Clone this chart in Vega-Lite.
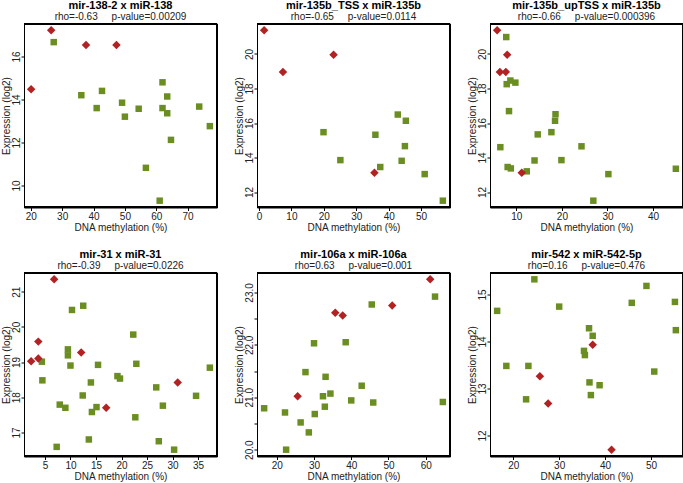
{
  "$schema": "https://vega.github.io/schema/vega-lite/v6.json",
  "background": "white",
  "padding": {"left": 0, "top": -0.5, "right": 0, "bottom": 0},
  "config": {
    "font": "Liberation Sans",
    "view": {"stroke": "#000000", "strokeWidth": 1},
    "axis": {"domain": false, "grid": false, "ticks": true, "tickColor": "#000000", "tickWidth": 1, "tickSize": 3, "labelFontSize": 10, "labelColor": "#222", "titleFontSize": 10, "titleFontWeight": "normal", "titleColor": "#222", "labelFlush": false, "labelOverlap": false, "labelBound": false},
    "axisY": {"labelAngle": -90, "labelAlign": "center", "labelBaseline": "middle", "labelPadding": 4.7, "titlePadding": 0},
    "axisX": {"labelPadding": 1, "titlePadding": 1},
    "title": {"fontSize": 11, "fontWeight": "bold", "color": "#000", "subtitleFontSize": 10, "subtitleColor": "#222", "offset": 1.5, "subtitlePadding": 1, "anchor": "middle"}
  },
  "datasets": {
    "p1": [
      {"methylation": 27.3, "expression": 16.67, "group": "green"},
      {"methylation": 36.1, "expression": 14.2, "group": "green"},
      {"methylation": 42.7, "expression": 14.4, "group": "green"},
      {"methylation": 41.0, "expression": 13.6, "group": "green"},
      {"methylation": 49.1, "expression": 13.85, "group": "green"},
      {"methylation": 50.0, "expression": 13.2, "group": "green"},
      {"methylation": 54.4, "expression": 13.57, "group": "green"},
      {"methylation": 62.0, "expression": 14.8, "group": "green"},
      {"methylation": 63.5, "expression": 14.14, "group": "green"},
      {"methylation": 62.0, "expression": 13.6, "group": "green"},
      {"methylation": 63.5, "expression": 13.36, "group": "green"},
      {"methylation": 64.7, "expression": 12.12, "group": "green"},
      {"methylation": 56.7, "expression": 10.82, "group": "green"},
      {"methylation": 61.1, "expression": 9.29, "group": "green"},
      {"methylation": 73.7, "expression": 13.67, "group": "green"},
      {"methylation": 77.1, "expression": 12.76, "group": "green"},
      {"methylation": 20.1, "expression": 14.48, "group": "red"},
      {"methylation": 26.5, "expression": 17.22, "group": "red"},
      {"methylation": 37.6, "expression": 16.54, "group": "red"},
      {"methylation": 47.3, "expression": 16.54, "group": "red"}
    ],
    "p2": [
      {"methylation": 19.9, "expression": 15.47, "group": "green"},
      {"methylation": 25.1, "expression": 13.85, "group": "green"},
      {"methylation": 35.9, "expression": 15.32, "group": "green"},
      {"methylation": 37.4, "expression": 13.45, "group": "green"},
      {"methylation": 42.8, "expression": 16.49, "group": "green"},
      {"methylation": 45.3, "expression": 16.13, "group": "green"},
      {"methylation": 45.0, "expression": 14.66, "group": "green"},
      {"methylation": 44.0, "expression": 13.81, "group": "green"},
      {"methylation": 51.1, "expression": 13.04, "group": "green"},
      {"methylation": 56.7, "expression": 11.5, "group": "green"},
      {"methylation": 1.6, "expression": 21.37, "group": "red"},
      {"methylation": 7.4, "expression": 18.96, "group": "red"},
      {"methylation": 23.0, "expression": 19.96, "group": "red"},
      {"methylation": 35.6, "expression": 13.12, "group": "red"}
    ],
    "p3": [
      {"methylation": 7.8, "expression": 20.98, "group": "green"},
      {"methylation": 7.9, "expression": 18.25, "group": "green"},
      {"methylation": 8.7, "expression": 18.46, "group": "green"},
      {"methylation": 9.8, "expression": 18.34, "group": "green"},
      {"methylation": 8.4, "expression": 16.69, "group": "green"},
      {"methylation": 6.5, "expression": 14.6, "group": "green"},
      {"methylation": 8.1, "expression": 13.45, "group": "green"},
      {"methylation": 8.8, "expression": 13.37, "group": "green"},
      {"methylation": 12.3, "expression": 13.2, "group": "green"},
      {"methylation": 14.0, "expression": 13.83, "group": "green"},
      {"methylation": 14.7, "expression": 15.34, "group": "green"},
      {"methylation": 17.7, "expression": 15.47, "group": "green"},
      {"methylation": 18.5, "expression": 16.13, "group": "green"},
      {"methylation": 18.6, "expression": 16.51, "group": "green"},
      {"methylation": 19.9, "expression": 13.85, "group": "green"},
      {"methylation": 24.3, "expression": 14.65, "group": "green"},
      {"methylation": 30.2, "expression": 13.04, "group": "green"},
      {"methylation": 26.9, "expression": 11.5, "group": "green"},
      {"methylation": 45.0, "expression": 13.35, "group": "green"},
      {"methylation": 5.8, "expression": 21.37, "group": "red"},
      {"methylation": 6.4, "expression": 18.96, "group": "red"},
      {"methylation": 7.7, "expression": 18.96, "group": "red"},
      {"methylation": 8.0, "expression": 19.96, "group": "red"},
      {"methylation": 11.2, "expression": 13.12, "group": "red"}
    ],
    "p4": [
      {"methylation": 10.3, "expression": 20.48, "group": "green"},
      {"methylation": 12.5, "expression": 20.6, "group": "green"},
      {"methylation": 22.3, "expression": 19.78, "group": "green"},
      {"methylation": 9.5, "expression": 19.36, "group": "green"},
      {"methylation": 9.5, "expression": 19.19, "group": "green"},
      {"methylation": 10.0, "expression": 18.9, "group": "green"},
      {"methylation": 4.4, "expression": 19.01, "group": "green"},
      {"methylation": 4.5, "expression": 18.48, "group": "green"},
      {"methylation": 15.4, "expression": 18.92, "group": "green"},
      {"methylation": 22.9, "expression": 18.95, "group": "green"},
      {"methylation": 19.2, "expression": 18.6, "group": "green"},
      {"methylation": 19.7, "expression": 18.53, "group": "green"},
      {"methylation": 14.0, "expression": 18.42, "group": "green"},
      {"methylation": 12.4, "expression": 18.05, "group": "green"},
      {"methylation": 7.9, "expression": 17.79, "group": "green"},
      {"methylation": 9.0, "expression": 17.7, "group": "green"},
      {"methylation": 14.2, "expression": 17.58, "group": "green"},
      {"methylation": 15.1, "expression": 17.72, "group": "green"},
      {"methylation": 22.7, "expression": 17.43, "group": "green"},
      {"methylation": 26.8, "expression": 18.28, "group": "green"},
      {"methylation": 28.1, "expression": 17.76, "group": "green"},
      {"methylation": 34.6, "expression": 18.04, "group": "green"},
      {"methylation": 37.3, "expression": 18.84, "group": "green"},
      {"methylation": 13.6, "expression": 16.8, "group": "green"},
      {"methylation": 7.3, "expression": 16.59, "group": "green"},
      {"methylation": 27.3, "expression": 16.75, "group": "green"},
      {"methylation": 30.3, "expression": 16.51, "group": "green"},
      {"methylation": 6.8, "expression": 21.35, "group": "red"},
      {"methylation": 3.7, "expression": 19.58, "group": "red"},
      {"methylation": 3.7, "expression": 19.1, "group": "red"},
      {"methylation": 2.3, "expression": 19.02, "group": "red"},
      {"methylation": 12.1, "expression": 19.27, "group": "red"},
      {"methylation": 17.0, "expression": 17.7, "group": "red"},
      {"methylation": 31.0, "expression": 18.42, "group": "red"}
    ],
    "p5": [
      {"methylation": 62.5, "expression": 22.92, "group": "green"},
      {"methylation": 45.5, "expression": 22.77, "group": "green"},
      {"methylation": 30.0, "expression": 22.03, "group": "green"},
      {"methylation": 38.5, "expression": 22.05, "group": "green"},
      {"methylation": 27.7, "expression": 21.48, "group": "green"},
      {"methylation": 33.1, "expression": 21.39, "group": "green"},
      {"methylation": 42.8, "expression": 21.22, "group": "green"},
      {"methylation": 32.4, "expression": 21.02, "group": "green"},
      {"methylation": 34.4, "expression": 21.07, "group": "green"},
      {"methylation": 40.0, "expression": 20.94, "group": "green"},
      {"methylation": 45.9, "expression": 20.9, "group": "green"},
      {"methylation": 64.6, "expression": 20.91, "group": "green"},
      {"methylation": 16.6, "expression": 20.79, "group": "green"},
      {"methylation": 22.2, "expression": 20.71, "group": "green"},
      {"methylation": 32.9, "expression": 20.82, "group": "green"},
      {"methylation": 30.2, "expression": 20.68, "group": "green"},
      {"methylation": 26.4, "expression": 20.52, "group": "green"},
      {"methylation": 28.6, "expression": 20.33, "group": "green"},
      {"methylation": 22.5, "expression": 20.0, "group": "green"},
      {"methylation": 61.2, "expression": 23.25, "group": "red"},
      {"methylation": 51.0, "expression": 22.75, "group": "red"},
      {"methylation": 35.7, "expression": 22.61, "group": "red"},
      {"methylation": 37.7, "expression": 22.56, "group": "red"},
      {"methylation": 25.6, "expression": 21.02, "group": "red"}
    ],
    "p6": [
      {"methylation": 24.6, "expression": 15.32, "group": "green"},
      {"methylation": 49.0, "expression": 15.18, "group": "green"},
      {"methylation": 45.8, "expression": 14.82, "group": "green"},
      {"methylation": 55.2, "expression": 14.84, "group": "green"},
      {"methylation": 16.5, "expression": 14.65, "group": "green"},
      {"methylation": 30.0, "expression": 14.74, "group": "green"},
      {"methylation": 36.5, "expression": 14.28, "group": "green"},
      {"methylation": 37.3, "expression": 14.12, "group": "green"},
      {"methylation": 55.4, "expression": 14.24, "group": "green"},
      {"methylation": 35.4, "expression": 13.8, "group": "green"},
      {"methylation": 35.6, "expression": 13.71, "group": "green"},
      {"methylation": 18.5, "expression": 13.48, "group": "green"},
      {"methylation": 23.3, "expression": 13.48, "group": "green"},
      {"methylation": 50.7, "expression": 13.36, "group": "green"},
      {"methylation": 36.6, "expression": 13.13, "group": "green"},
      {"methylation": 38.8, "expression": 13.07, "group": "green"},
      {"methylation": 36.9, "expression": 12.86, "group": "green"},
      {"methylation": 22.8, "expression": 12.77, "group": "green"},
      {"methylation": 37.3, "expression": 13.93, "group": "red"},
      {"methylation": 25.8, "expression": 13.26, "group": "red"},
      {"methylation": 27.6, "expression": 12.68, "group": "red"},
      {"methylation": 41.4, "expression": 11.7, "group": "red"}
    ]
  },
  "columns": 3,
  "spacing": {"row": 65, "column": 40},
  "bounds": "flush",
  "concat": [
    {
      "width": 193, "height": 184,
      "title": {"text": "mir-138-2 x miR-138", "subtitle": "rho=-0.63\u00a0\u00a0\u00a0\u00a0\u00a0p-value=0.00209"},
      "data": {"name": "p1"},
      "encoding": {
        "x": {"field": "methylation", "type": "quantitative", "title": "DNA methylation (%)", "scale": {"zero": false, "nice": false, "domain": [17.82, 79.38]}, "axis": {"values": [20, 30, 40, 50, 60, 70]}},
        "y": {"field": "expression", "type": "quantitative", "title": "Expression (log2)", "scale": {"zero": false, "nice": false, "domain": [8.973, 17.537]}, "axis": {"values": [10, 12, 14, 16]}}
      },
      "layer": [
        {"mark": {"type": "rect", "color": "#000000"}, "encoding": {"x": {"datum": 17.82, "type": "quantitative", "title": "DNA methylation (%)"}, "x2": {"datum": 79.38}, "y": {"datum": 8.973, "type": "quantitative", "title": "Expression (log2)"}, "y2": {"datum": 17.537}}},
        {"mark": {"type": "rect", "color": "#ffffff"}, "encoding": {"x": {"datum": 18.298, "type": "quantitative", "title": "DNA methylation (%)"}, "x2": {"datum": 78.902}, "y": {"datum": 9.043, "type": "quantitative", "title": "Expression (log2)"}, "y2": {"datum": 17.467}}},
        {
          "mark": {"type": "point", "filled": true, "opacity": 1},
          "encoding": {
            "color": {"field": "group", "type": "nominal", "scale": {"domain": ["green", "red"], "range": ["#6b8e23", "#b22222"]}, "legend": null},
            "shape": {"field": "group", "type": "nominal", "scale": {"domain": ["green", "red"], "range": ["square", "diamond"]}, "legend": null},
            "size": {"field": "group", "type": "ordinal", "scale": {"domain": ["green", "red"], "range": [42, 72]}, "legend": null}
          }
        }
      ]
    },
    {
      "width": 193, "height": 184,
      "title": {"text": "mir-135b_TSS x miR-135b", "subtitle": "rho=-0.65\u00a0\u00a0\u00a0\u00a0\u00a0p-value=0.0114"},
      "data": {"name": "p2"},
      "encoding": {
        "x": {"field": "methylation", "type": "quantitative", "title": "DNA methylation (%)", "scale": {"zero": false, "nice": false, "domain": [-0.604, 58.904]}, "axis": {"values": [0, 10, 20, 30, 40, 50]}},
        "y": {"field": "expression", "type": "quantitative", "title": "Expression (log2)", "scale": {"zero": false, "nice": false, "domain": [11.105, 21.765]}, "axis": {"values": [12, 14, 16, 18, 20]}}
      },
      "layer": [
        {"mark": {"type": "rect", "color": "#000000"}, "encoding": {"x": {"datum": -0.604, "type": "quantitative", "title": "DNA methylation (%)"}, "x2": {"datum": 58.904}, "y": {"datum": 11.105, "type": "quantitative", "title": "Expression (log2)"}, "y2": {"datum": 21.765}}},
        {"mark": {"type": "rect", "color": "#ffffff"}, "encoding": {"x": {"datum": -0.1415, "type": "quantitative", "title": "DNA methylation (%)"}, "x2": {"datum": 58.4415}, "y": {"datum": 11.192, "type": "quantitative", "title": "Expression (log2)"}, "y2": {"datum": 21.678}}},
        {
          "mark": {"type": "point", "filled": true, "opacity": 1},
          "encoding": {
            "color": {"field": "group", "type": "nominal", "scale": {"domain": ["green", "red"], "range": ["#6b8e23", "#b22222"]}, "legend": null},
            "shape": {"field": "group", "type": "nominal", "scale": {"domain": ["green", "red"], "range": ["square", "diamond"]}, "legend": null},
            "size": {"field": "group", "type": "ordinal", "scale": {"domain": ["green", "red"], "range": [42, 72]}, "legend": null}
          }
        }
      ]
    },
    {
      "width": 193, "height": 184,
      "title": {"text": "mir-135b_upTSS x miR-135b", "subtitle": "rho=-0.66\u00a0\u00a0\u00a0\u00a0\u00a0p-value=0.000396"},
      "data": {"name": "p3"},
      "encoding": {
        "x": {"field": "methylation", "type": "quantitative", "title": "DNA methylation (%)", "scale": {"zero": false, "nice": false, "domain": [4.232, 46.568]}, "axis": {"values": [10, 20, 30, 40]}},
        "y": {"field": "expression", "type": "quantitative", "title": "Expression (log2)", "scale": {"zero": false, "nice": false, "domain": [11.105, 21.765]}, "axis": {"values": [12, 14, 16, 18, 20]}}
      },
      "layer": [
        {"mark": {"type": "rect", "color": "#000000"}, "encoding": {"x": {"datum": 4.232, "type": "quantitative", "title": "DNA methylation (%)"}, "x2": {"datum": 46.568}, "y": {"datum": 11.105, "type": "quantitative", "title": "Expression (log2)"}, "y2": {"datum": 21.765}}},
        {"mark": {"type": "rect", "color": "#ffffff"}, "encoding": {"x": {"datum": 4.561, "type": "quantitative", "title": "DNA methylation (%)"}, "x2": {"datum": 46.239}, "y": {"datum": 11.192, "type": "quantitative", "title": "Expression (log2)"}, "y2": {"datum": 21.678}}},
        {
          "mark": {"type": "point", "filled": true, "opacity": 1},
          "encoding": {
            "color": {"field": "group", "type": "nominal", "scale": {"domain": ["green", "red"], "range": ["#6b8e23", "#b22222"]}, "legend": null},
            "shape": {"field": "group", "type": "nominal", "scale": {"domain": ["green", "red"], "range": ["square", "diamond"]}, "legend": null},
            "size": {"field": "group", "type": "ordinal", "scale": {"domain": ["green", "red"], "range": [42, 72]}, "legend": null}
          }
        }
      ]
    },
    {
      "width": 193, "height": 184,
      "title": {"text": "mir-31 x miR-31", "subtitle": "rho=-0.39\u00a0\u00a0\u00a0\u00a0\u00a0p-value=0.0226"},
      "data": {"name": "p4"},
      "encoding": {
        "x": {"field": "methylation", "type": "quantitative", "title": "DNA methylation (%)", "scale": {"zero": false, "nice": false, "domain": [0.9, 38.7]}, "axis": {"values": [5, 10, 15, 20, 25, 30, 35]}},
        "y": {"field": "expression", "type": "quantitative", "title": "Expression (log2)", "scale": {"zero": false, "nice": false, "domain": [16.316, 21.544]}, "axis": {"values": [17, 18, 19, 20, 21]}}
      },
      "layer": [
        {"mark": {"type": "rect", "color": "#000000"}, "encoding": {"x": {"datum": 0.9, "type": "quantitative", "title": "DNA methylation (%)"}, "x2": {"datum": 38.7}, "y": {"datum": 16.316, "type": "quantitative", "title": "Expression (log2)"}, "y2": {"datum": 21.544}}},
        {"mark": {"type": "rect", "color": "#ffffff"}, "encoding": {"x": {"datum": 1.194, "type": "quantitative", "title": "DNA methylation (%)"}, "x2": {"datum": 38.406}, "y": {"datum": 16.359, "type": "quantitative", "title": "Expression (log2)"}, "y2": {"datum": 21.501}}},
        {
          "mark": {"type": "point", "filled": true, "opacity": 1},
          "encoding": {
            "color": {"field": "group", "type": "nominal", "scale": {"domain": ["green", "red"], "range": ["#6b8e23", "#b22222"]}, "legend": null},
            "shape": {"field": "group", "type": "nominal", "scale": {"domain": ["green", "red"], "range": ["square", "diamond"]}, "legend": null},
            "size": {"field": "group", "type": "ordinal", "scale": {"domain": ["green", "red"], "range": [42, 72]}, "legend": null}
          }
        }
      ]
    },
    {
      "width": 193, "height": 184,
      "title": {"text": "mir-106a x miR-106a", "subtitle": "rho=0.63\u00a0\u00a0\u00a0\u00a0\u00a0p-value=0.001"},
      "data": {"name": "p5"},
      "encoding": {
        "x": {"field": "methylation", "type": "quantitative", "title": "DNA methylation (%)", "scale": {"zero": false, "nice": false, "domain": [14.68, 66.52]}, "axis": {"values": [20, 30, 40, 50, 60]}},
        "y": {"field": "expression", "type": "quantitative", "title": "Expression (log2)", "scale": {"zero": false, "nice": false, "domain": [19.87, 23.38]}, "axis": {"values": [20, 20.5, 21, 21.5, 22, 22.5, 23], "labelExpr": "datum.value % 1 === 0 ? format(datum.value, '.1f') : ''"}}
      },
      "layer": [
        {"mark": {"type": "rect", "color": "#000000"}, "encoding": {"x": {"datum": 14.68, "type": "quantitative", "title": "DNA methylation (%)"}, "x2": {"datum": 66.52}, "y": {"datum": 19.87, "type": "quantitative", "title": "Expression (log2)"}, "y2": {"datum": 23.38}}},
        {"mark": {"type": "rect", "color": "#ffffff"}, "encoding": {"x": {"datum": 15.083, "type": "quantitative", "title": "DNA methylation (%)"}, "x2": {"datum": 66.117}, "y": {"datum": 19.899, "type": "quantitative", "title": "Expression (log2)"}, "y2": {"datum": 23.351}}},
        {
          "mark": {"type": "point", "filled": true, "opacity": 1},
          "encoding": {
            "color": {"field": "group", "type": "nominal", "scale": {"domain": ["green", "red"], "range": ["#6b8e23", "#b22222"]}, "legend": null},
            "shape": {"field": "group", "type": "nominal", "scale": {"domain": ["green", "red"], "range": ["square", "diamond"]}, "legend": null},
            "size": {"field": "group", "type": "ordinal", "scale": {"domain": ["green", "red"], "range": [42, 72]}, "legend": null}
          }
        }
      ]
    },
    {
      "width": 193, "height": 184,
      "title": {"text": "mir-542 x miR-542-5p", "subtitle": "rho=0.16\u00a0\u00a0\u00a0\u00a0\u00a0p-value=0.476"},
      "data": {"name": "p6"},
      "encoding": {
        "x": {"field": "methylation", "type": "quantitative", "title": "DNA methylation (%)", "scale": {"zero": false, "nice": false, "domain": [14.944, 56.956]}, "axis": {"values": [20, 30, 40, 50]}},
        "y": {"field": "expression", "type": "quantitative", "title": "Expression (log2)", "scale": {"zero": false, "nice": false, "domain": [11.555, 15.465]}, "axis": {"values": [12, 13, 14, 15]}}
      },
      "layer": [
        {"mark": {"type": "rect", "color": "#000000"}, "encoding": {"x": {"datum": 14.944, "type": "quantitative", "title": "DNA methylation (%)"}, "x2": {"datum": 56.956}, "y": {"datum": 11.555, "type": "quantitative", "title": "Expression (log2)"}, "y2": {"datum": 15.465}}},
        {"mark": {"type": "rect", "color": "#ffffff"}, "encoding": {"x": {"datum": 15.271, "type": "quantitative", "title": "DNA methylation (%)"}, "x2": {"datum": 56.629}, "y": {"datum": 11.587, "type": "quantitative", "title": "Expression (log2)"}, "y2": {"datum": 15.433}}},
        {
          "mark": {"type": "point", "filled": true, "opacity": 1},
          "encoding": {
            "color": {"field": "group", "type": "nominal", "scale": {"domain": ["green", "red"], "range": ["#6b8e23", "#b22222"]}, "legend": null},
            "shape": {"field": "group", "type": "nominal", "scale": {"domain": ["green", "red"], "range": ["square", "diamond"]}, "legend": null},
            "size": {"field": "group", "type": "ordinal", "scale": {"domain": ["green", "red"], "range": [42, 72]}, "legend": null}
          }
        }
      ]
    }
  ]
}
